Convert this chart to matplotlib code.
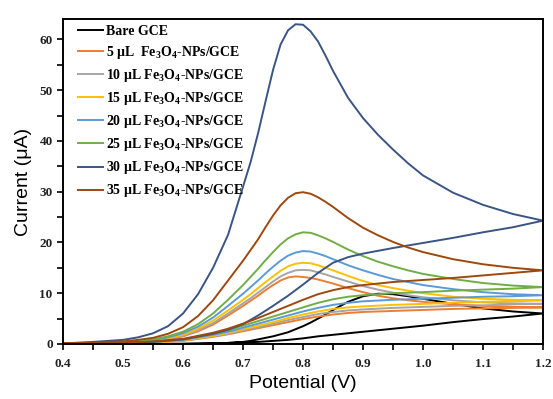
import matplotlib
matplotlib.use("Agg")
import matplotlib.pyplot as plt
from matplotlib.ticker import MultipleLocator

plt.rcParams['mathtext.fontset'] = 'custom'
plt.rcParams['mathtext.rm'] = 'Liberation Serif:bold'
plt.rcParams['mathtext.it'] = 'Liberation Serif:bold'
plt.rcParams['mathtext.bf'] = 'Liberation Serif:bold'

# potential grids (V): anodic sweep then return sweep
E_fwd = [0.40, 0.45, 0.50, 0.525, 0.55, 0.575, 0.60, 0.625, 0.65, 0.675, 0.70,
         0.7125, 0.725, 0.7375, 0.75, 0.7625, 0.775, 0.7875, 0.80, 0.8125, 0.825,
         0.8375, 0.85, 0.875, 0.90, 0.925, 0.95, 0.975, 1.00, 1.05, 1.10, 1.15, 1.20]
E_rev = [1.20, 1.15, 1.10, 1.05, 1.00, 0.95, 0.90, 0.875, 0.85, 0.825, 0.80,
         0.775, 0.75, 0.725, 0.70, 0.675, 0.65, 0.60, 0.55, 0.50, 0.45, 0.40]

labels = ["Bare GCE",
          "5 μL  Fe$_3$O$_4$-NPs/GCE",
          "10 μL Fe$_3$O$_4$-NPs/GCE",
          "15 μL Fe$_3$O$_4$-NPs/GCE",
          "20 μL Fe$_3$O$_4$-NPs/GCE",
          "25 μL Fe$_3$O$_4$-NPs/GCE",
          "30 μL Fe$_3$O$_4$-NPs/GCE",
          "35 μL Fe$_3$O$_4$-NPs/GCE"]
colors = ["#000000", "#ED7D31", "#A5A5A5", "#FFC000",
          "#5B9BD5", "#70AD47", "#3A5584", "#9E480E"]

# current (uA), forward sweep
I_fwd = [
    [0, 0, 0, 0, 0, 0, 0, 0.05, 0.1, 0.2, 0.4, 0.6, 0.9, 1.2, 1.5, 1.9, 2.3, 2.9, 3.5,
     4.2, 5.0, 5.8, 6.7, 8.3, 9.4, 9.9, 9.8, 9.4, 8.9, 7.9, 7.0, 6.4, 6.0],
    [0.1, 0.2, 0.3, 0.4, 0.6, 0.9, 1.5, 2.5, 3.8, 5.6, 7.5, 8.5, 9.5, 10.6, 11.6, 12.5,
     13.1, 13.3, 13.2, 13.0, 12.7, 12.3, 11.9, 11.0, 10.2, 9.5, 9.0, 8.6, 8.3, 7.8, 7.5, 7.3, 7.2],
    [0.1, 0.2, 0.3, 0.4, 0.6, 1.0, 1.6, 2.7, 4.1, 6.0, 8.0, 9.0, 10.1, 11.2, 12.3, 13.3,
     14.0, 14.5, 14.6, 14.5, 14.1, 13.7, 13.2, 12.3, 11.4, 10.7, 10.1, 9.6, 9.2, 8.6, 8.2, 8.0, 7.9],
    [0.1, 0.2, 0.3, 0.5, 0.7, 1.1, 1.8, 3.0, 4.6, 6.6, 8.7, 9.8, 11.0, 12.2, 13.3, 14.4,
     15.3, 15.8, 16.0, 15.9, 15.5, 15.0, 14.5, 13.4, 12.4, 11.6, 11.0, 10.5, 10.0, 9.3, 8.9, 8.7, 8.6],
    [0.1, 0.2, 0.4, 0.5, 0.8, 1.3, 2.1, 3.4, 5.2, 7.5, 9.9, 11.2, 12.5, 13.9, 15.2, 16.4,
     17.4, 18.0, 18.3, 18.2, 17.8, 17.3, 16.7, 15.5, 14.5, 13.6, 12.8, 12.2, 11.6, 10.8, 10.2, 9.8, 9.6],
    [0.1, 0.2, 0.4, 0.6, 0.9, 1.5, 2.4, 3.9, 6.0, 8.7, 11.6, 13.2, 14.8, 16.5, 18.1, 19.6,
     20.8, 21.6, 22.0, 21.9, 21.4, 20.8, 20.1, 18.6, 17.3, 16.2, 15.3, 14.5, 13.8, 12.8, 12.0, 11.5, 11.2],
    [0.1, 0.4, 0.8, 1.3, 2.1, 3.5, 6.0, 9.8, 15.0, 21.5, 31.0, 35.8, 41.5, 47.8, 54.0, 59.0,
     61.8, 63.0, 62.9, 61.6, 59.6, 56.8, 53.8, 48.5, 44.5, 41.2, 38.3, 35.6, 33.2, 29.8, 27.4, 25.6, 24.3],
    [0.1, 0.2, 0.5, 0.8, 1.2, 2.0, 3.3, 5.5, 8.6, 12.5, 16.4, 18.5, 20.6, 23.0, 25.3, 27.3,
     28.8, 29.7, 29.9, 29.6, 28.9, 28.0, 27.0, 24.8, 22.9, 21.4, 20.1, 19.0, 18.1, 16.7, 15.7, 15.0, 14.5],
]

# current (uA), return sweep
I_rev = [
    [6.0, 5.4, 4.9, 4.3, 3.6, 3.0, 2.4, 2.1, 1.8, 1.5, 1.1, 0.8, 0.6, 0.4, 0.3, 0.2,
     0.1, 0.05, 0, 0, 0, 0],
    [7.2, 7.1, 7.0, 6.9, 6.7, 6.5, 6.3, 6.1, 5.8, 5.4, 4.9, 4.3, 3.7, 3.1, 2.5, 1.9,
     1.4, 0.6, 0.3, 0.1, 0.1, 0.1],
    [7.9, 7.8, 7.6, 7.5, 7.3, 7.1, 6.8, 6.6, 6.3, 5.9, 5.3, 4.7, 4.0, 3.3, 2.7, 2.0,
     1.5, 0.7, 0.3, 0.2, 0.1, 0.1],
    [8.6, 8.4, 8.3, 8.1, 7.9, 7.7, 7.4, 7.2, 6.9, 6.4, 5.8, 5.1, 4.3, 3.6, 2.9, 2.2,
     1.6, 0.7, 0.3, 0.2, 0.1, 0.1],
    [9.6, 9.4, 9.3, 9.1, 8.9, 8.7, 8.4, 8.1, 7.7, 7.1, 6.4, 5.6, 4.8, 4.0, 3.2, 2.4,
     1.8, 0.8, 0.4, 0.2, 0.1, 0.1],
    [11.2, 10.9, 10.7, 10.5, 10.2, 10.0, 9.6, 9.3, 8.8, 8.1, 7.2, 6.3, 5.4, 4.5, 3.6, 2.7,
     2.0, 0.9, 0.4, 0.2, 0.1, 0.1],
    [24.3, 23.0, 22.0, 20.9, 19.9, 18.9, 17.8, 17.1, 16.0, 14.0, 11.7, 9.5, 7.5, 5.6, 3.9, 2.8,
     2.0, 0.9, 0.4, 0.2, 0.1, 0.1],
    [14.5, 14.0, 13.5, 13.0, 12.6, 12.2, 11.6, 11.2, 10.6, 9.8, 8.7, 7.5, 6.3, 5.1, 4.0, 3.0,
     2.2, 1.0, 0.5, 0.2, 0.1, 0.1],
]

fig = plt.figure(figsize=(5.53, 3.99), dpi=100)
ax = fig.add_axes([0.114, 0.138, 0.868, 0.814])

for lab, c, yf, yr in zip(labels, colors, I_fwd, I_rev):
    ax.plot(E_fwd + E_rev, yf + yr, color=c, lw=1.4, label=lab,
            solid_joinstyle='round')

ax.set_xlim(0.4, 1.2)
ax.set_ylim(0, 64)
ax.xaxis.set_major_locator(MultipleLocator(0.1))
ax.xaxis.set_minor_locator(MultipleLocator(0.05))
ax.yaxis.set_major_locator(MultipleLocator(10))
ax.yaxis.set_minor_locator(MultipleLocator(5))
ax.tick_params(which='both', direction='out', length=4, width=1.2)
ax.tick_params(axis='x', pad=6)
ax.set_xticklabels([f"{v:.1f}" for v in ax.get_xticks()])
for t in ax.get_xticklabels() + ax.get_yticklabels():
    t.set_fontfamily('Liberation Serif')
    t.set_fontweight('bold')
    t.set_fontsize(9.5)
    t.set_color('#222222')
for s in ax.spines.values():
    s.set_linewidth(1.4)

ax.set_xlabel("Potential (V)", fontfamily='Liberation Sans', fontsize=14, labelpad=4)
ax.set_ylabel("Current (μA)", fontfamily='Liberation Sans', fontsize=14, labelpad=5)

ax.legend(loc='upper left', frameon=False, bbox_to_anchor=(0.02, 1.0),
          prop={'family': 'Liberation Serif', 'weight': 'bold', 'size': 10},
          handlelength=1.8, handletextpad=0.2, labelspacing=0.44,
          borderaxespad=0.0, borderpad=0.4)

fig.savefig("out.png", dpi=100)
